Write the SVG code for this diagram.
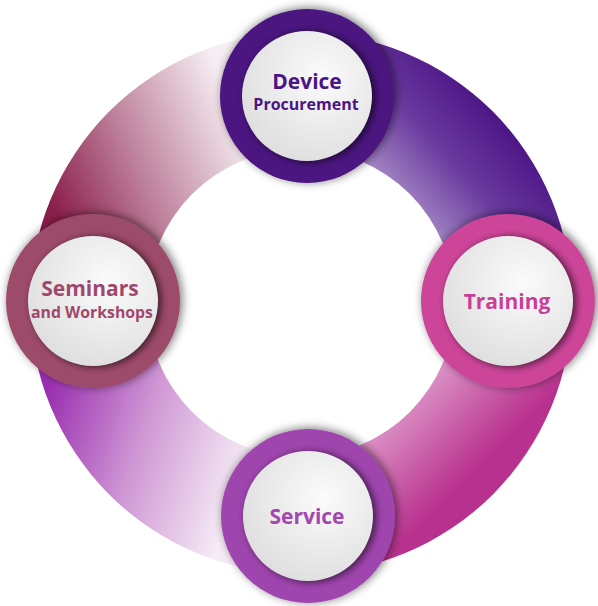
<svg xmlns="http://www.w3.org/2000/svg" width="598" height="606" viewBox="0 0 598 606">
  <defs>
    <style>
      .lbl { font-family: "Open Sans", "Noto Sans", "DejaVu Sans", sans-serif; font-weight: 700; text-anchor: middle; }
      .big { font-size: 21px; }
      .small { font-size: 16px; }
      .inner { fill: url(#innerGrad); }
      .inshadow { fill: #000; opacity: 0.5; filter: url(#blur3); }
      .node { filter: url(#drop); }
    </style>
    <filter id="drop" x="-30%" y="-30%" width="160%" height="160%">
      <feDropShadow dx="2" dy="-1" stdDeviation="5" flood-color="#000" flood-opacity="0.55"/>
    </filter>
    <filter id="blur3" x="-20%" y="-20%" width="140%" height="140%">
      <feGaussianBlur stdDeviation="3"/>
    </filter>
    <radialGradient id="innerGrad" cx="0.62" cy="0.36" r="0.7">
      <stop offset="0" stop-color="#fbfbfb"/>
      <stop offset="1" stop-color="#dedede"/>
    </radialGradient>
    <linearGradient id="gTR" gradientUnits="userSpaceOnUse" x1="405" y1="215" x2="510" y2="120">
      <stop offset="0" stop-color="#a88dc6"/>
      <stop offset="0.5" stop-color="#6a3a9f"/>
      <stop offset="1" stop-color="#4a1283"/>
    </linearGradient>
    <linearGradient id="gBR" gradientUnits="userSpaceOnUse" x1="425" y1="380" x2="495" y2="450">
      <stop offset="0" stop-color="#dc92c6"/>
      <stop offset="1" stop-color="#b8318e"/>
    </linearGradient>
    <linearGradient id="gBL" gradientUnits="userSpaceOnUse" x1="45" y1="395" x2="245" y2="460">
      <stop offset="0" stop-color="#9a2eb0"/>
      <stop offset="0.5" stop-color="#cf97d4"/>
      <stop offset="1" stop-color="#f5eaf5"/>
    </linearGradient>
    <linearGradient id="gTL" gradientUnits="userSpaceOnUse" x1="55" y1="215" x2="245" y2="130">
      <stop offset="0" stop-color="#8a1e4a"/>
      <stop offset="0.45" stop-color="#bd7f9a"/>
      <stop offset="1" stop-color="#f6eef2"/>
    </linearGradient>
  </defs>
  <rect width="598" height="606" fill="#ffffff"/>

  <g id="connectors">
    <path id="seg-top-right" fill="url(#gTR)" d="M 301 32 A 271 271 0 0 1 572 303 L 455 303 A 154 154 0 0 0 301 149 Z"/>
    <path id="seg-bottom-right" fill="url(#gBR)" d="M 572 303 A 271 271 0 0 1 301 574 L 301 457 A 154 154 0 0 0 455 303 Z"/>
    <path id="seg-bottom-left" fill="url(#gBL)" d="M 301 574 A 271 271 0 0 1 30 303 L 147 303 A 154 154 0 0 0 301 457 Z"/>
    <path id="seg-top-left" fill="url(#gTL)" d="M 30 303 A 271 271 0 0 1 301 32 L 301 149 A 154 154 0 0 0 147 303 Z"/>
  </g>

  <g id="node-device-procurement">
    <circle class="node" cx="307" cy="96" r="87" fill="#4b137f"/>
    <circle class="inshadow" cx="310" cy="97" r="66"/>
    <circle class="inner" cx="307" cy="96" r="65"/>
    <text class="lbl big" x="307" y="89" fill="#4b1583">Device</text>
    <text class="lbl small" x="306" y="110" fill="#4b1583">Procurement</text>
  </g>

  <g id="node-training">
    <circle class="node" cx="508" cy="301" r="87" fill="#cc4499"/>
    <circle class="inshadow" cx="511" cy="302" r="66"/>
    <circle class="inner" cx="508" cy="301" r="65"/>
    <text class="lbl big" x="507" y="309" fill="#c93f97">Training</text>
  </g>

  <g id="node-service">
    <circle class="node" cx="308" cy="516" r="87" fill="#9f45ae"/>
    <circle class="inshadow" cx="311" cy="517" r="66"/>
    <circle class="inner" cx="308" cy="516" r="65"/>
    <text class="lbl big" x="307" y="524" fill="#a446b0">Service</text>
  </g>

  <g id="node-seminars-workshops">
    <circle class="node" cx="93" cy="301" r="87" fill="#9d4b6a"/>
    <circle class="inshadow" cx="96" cy="302" r="66"/>
    <circle class="inner" cx="93" cy="301" r="65"/>
    <text class="lbl big" x="90" y="296" fill="#a0486c">Seminars</text>
    <text class="lbl" x="92" y="318" font-size="15.8" fill="#a0486c">and Workshops</text>
  </g>
</svg>
